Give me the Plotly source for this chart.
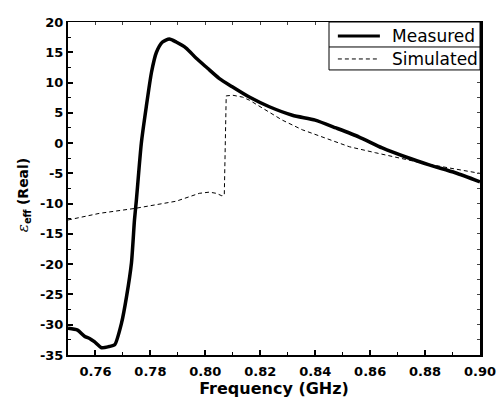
import plotly.graph_objects as go

# Effective permittivity (real part) versus frequency
meas_freq = [0.750, 0.7535, 0.756, 0.758, 0.7596, 0.7622, 0.765, 0.767, 0.7695,
             0.7713, 0.7731, 0.7742, 0.7749, 0.7767, 0.7785, 0.7804, 0.7822,
             0.7844, 0.7869, 0.7894, 0.793, 0.7967, 0.8007, 0.805, 0.8098,
             0.816, 0.8233, 0.8317, 0.840, 0.8476, 0.856, 0.8644, 0.873,
             0.8815, 0.891, 0.900]
meas_eps = [-30.6, -30.9, -31.9, -32.3, -32.8, -33.8, -33.6, -33.3, -29.7,
            -25.4, -19.8, -12.7, -9.4, 0.0, 6.0, 11.7, 15.0,
            16.7, 17.2, 16.7, 15.7, 14.0, 12.4, 10.7, 9.3,
            7.6, 6.0, 4.6, 3.8, 2.5, 1.0, -0.8, -2.3,
            -3.6, -4.9, -6.4]

sim_freq = [0.750, 0.7615, 0.7742, 0.7894, 0.7978, 0.8015, 0.804, 0.806,
            0.8069, 0.8076, 0.810, 0.8135, 0.816, 0.822, 0.828, 0.8353,
            0.844, 0.8524, 0.862, 0.8705, 0.879, 0.8887, 0.900]
sim_eps = [-12.7, -11.6, -10.8, -9.6, -8.3, -8.1, -8.3, -8.7,
           -8.6, 7.8, 7.9, 7.6, 7.1, 5.5, 3.8, 2.2,
           0.8, -0.6, -1.6, -2.5, -3.3, -4.1, -5.0]

x_tick_vals = [0.76, 0.78, 0.80, 0.82, 0.84, 0.86, 0.88, 0.90]
x_tick_text = ["0.76", "0.78", "0.80", "0.82", "0.84", "0.86", "0.88", "0.90"]
y_tick_vals = [20, 15, 10, 5, 0, -5, -10, -15, -20, -25, -30, -35]
y_tick_text = ["20", "15", "10", "5", "0", "-5", "-10", "-15", "-20", "-25", "-30", "-35"]

series_names = ["Measured", "Simulated"]

FONT = "DejaVu Sans"


def bold(labels):
    return ["<b>%s</b>" % t for t in labels]


fig = go.Figure()
fig.add_trace(go.Scatter(x=meas_freq, y=meas_eps, mode="lines", name=series_names[0],
                         line=dict(color="black", width=3.5, shape="spline", smoothing=0.6),
                         showlegend=False))
fig.add_trace(go.Scatter(x=sim_freq, y=sim_eps, mode="lines", name=series_names[1],
                         line=dict(color="black", width=1, dash="4px,3px"),
                         showlegend=False))
# invisible trace so the top/right frame axes are drawn
fig.add_trace(go.Scatter(x=[0.75], y=[-35], xaxis="x2", yaxis="y2", mode="markers",
                         marker=dict(opacity=0), showlegend=False, hoverinfo="skip"))

fig.update_layout(
    width=498, height=402,
    margin=dict(l=68, r=18, t=22, b=47, autoexpand=False),
    paper_bgcolor="white", plot_bgcolor="white",
    font=dict(family=FONT, color="black"),
    xaxis=dict(range=[0.75, 0.90], showgrid=False, zeroline=False, automargin=False,
               showline=True, linecolor="black", linewidth=2,
               ticks="inside", ticklen=5, tickwidth=1.5, tickcolor="black",
               tickvals=x_tick_vals, ticktext=bold(x_tick_text), ticklabelstandoff=3,
               minor=dict(ticks="inside", ticklen=3, tickwidth=1, dtick=0.01,
                          tick0=0.75, tickcolor="black"),
               tickfont=dict(family=FONT, size=13, color="black"),
               title=dict(text="<b>Frequency (GHz)</b>",
                          font=dict(family=FONT, size=16, color="black"), standoff=4)),
    yaxis=dict(range=[-35, 20], showgrid=False, zeroline=False, automargin=False,
               showline=True, linecolor="black", linewidth=2,
               ticks="inside", ticklen=5, tickwidth=1.5, tickcolor="black",
               tickvals=y_tick_vals, ticktext=bold(y_tick_text),
               minor=dict(ticks="inside", ticklen=3, tickwidth=1, dtick=2.5,
                          tick0=-35, tickcolor="black"),
               tickfont=dict(family=FONT, size=13, color="black")),
    xaxis2=dict(range=[0.75, 0.90], overlaying="x", side="top", anchor="y",
                automargin=False,
                showgrid=False, zeroline=False, showline=True, linecolor="black",
                linewidth=1, ticks="inside", ticklen=3, tickwidth=1,
                dtick=0.01, tick0=0.75, showticklabels=False),
    yaxis2=dict(range=[-35, 20], overlaying="y", side="right", anchor="x",
                automargin=False,
                showgrid=False, zeroline=False, showline=True, linecolor="black",
                linewidth=3, ticks="inside", ticklen=3, tickwidth=1,
                dtick=2.5, tick0=-35, showticklabels=False),
)

# y-axis title with the permittivity symbol
fig.add_annotation(
    xref="paper", yref="paper", x=0, y=0.48, xshift=-45, xanchor="center", yanchor="middle",
    textangle=-90, showarrow=False,
    text=("<span style='font-family:DejaVu Serif;font-size:15px'><i>ε</i></span>"
          "<sub><b>eff</b></sub> <b>(Real)</b>"),
    font=dict(family=FONT, size=14, color="black"),
)

# boxed legend in the top-right corner
lx0, lx1 = 0.6335, 1.0
ly0, lsep, ly1 = 0.856, 0.925, 1.0
fig.add_shape(type="rect", xref="paper", yref="paper", x0=lx0, x1=lx1, y0=ly0, y1=ly1,
              line=dict(color="black", width=1), fillcolor="white", layer="above")
fig.add_shape(type="line", xref="paper", yref="paper", x0=lx0, x1=lx1, y0=lsep, y1=lsep,
              line=dict(color="black", width=1), layer="above")
fig.add_shape(type="line", xref="paper", yref="paper", x0=0.655, x1=0.757, y0=0.958, y1=0.958,
              line=dict(color="black", width=3), layer="above")
fig.add_shape(type="line", xref="paper", yref="paper", x0=0.655, x1=0.757, y0=0.889, y1=0.889,
              line=dict(color="black", width=1, dash="4px,3px"), layer="above")
for name, yy in zip(series_names, [0.958, 0.889]):
    fig.add_annotation(xref="paper", yref="paper", x=0.7816, y=yy, xanchor="left",
                       yanchor="middle", showarrow=False, text=name,
                       font=dict(family=FONT, size=17, color="black"))

fig.write_html("out.html")
